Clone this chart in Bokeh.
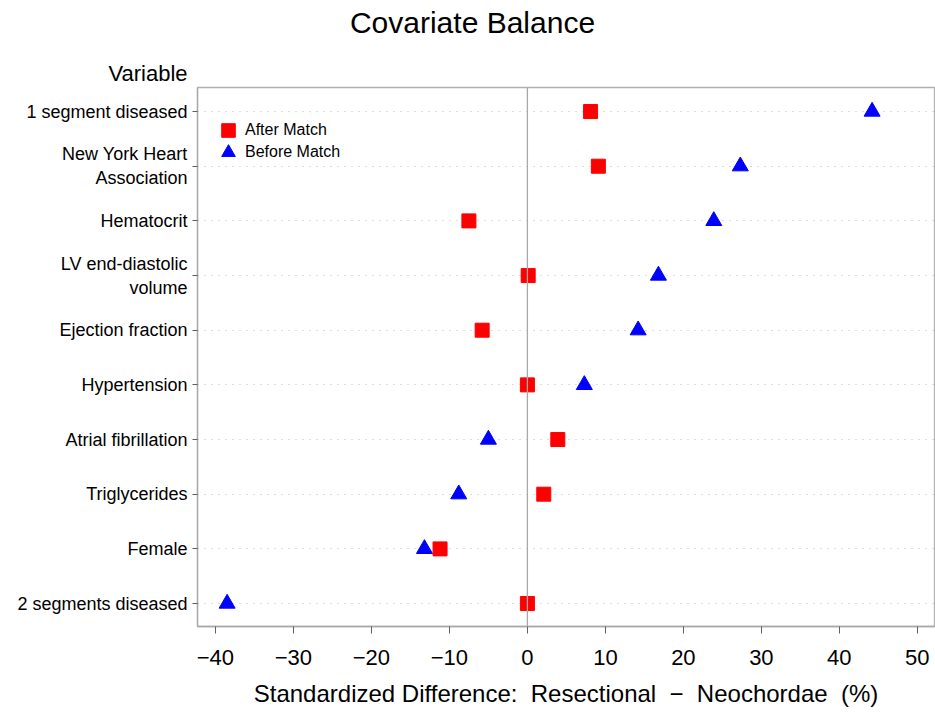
from bokeh.plotting import figure
from bokeh.layouts import column
from bokeh.models import (Range1d, FixedTicker, Span, Label, Legend, LegendItem, ColumnDataSource)
from bokeh.embed import file_html
from bokeh.resources import INLINE

# ---- data ----
variables = ["1 segment diseased", "New York Heart\nAssociation", "Hematocrit",
             "LV end-diastolic\nvolume", "Ejection fraction", "Hypertension",
             "Atrial fibrillation", "Triglycerides", "Female", "2 segments diseased"]
after_match = [8.1, 9.1, -7.5, 0.1, -5.8, 0.0, 3.9, 2.1, -11.2, 0.0]
before_match = [44.2, 27.3, 23.9, 16.8, 14.2, 7.3, -5.0, -8.8, -13.2, -38.5]
x_ticks = [-40, -30, -20, -10, 0, 10, 20, 30, 40, 50]

n = len(variables)
ypos = [n - i for i in range(n)]

FONT = "Liberation Sans"
W = 935
TOP_H = 86

# ---- header strip holding the title and the "Variable" heading ----
head = figure(width=W, height=TOP_H, output_backend="svg", toolbar_location=None,
              x_range=Range1d(0, W), y_range=Range1d(0, TOP_H),
              x_axis_type=None, y_axis_type=None, min_border=0)
head.title = None
head.frame_align = False
head.outline_line_color = None
head.xgrid.visible = False
head.ygrid.visible = False
head.add_layout(Label(x=472, y=TOP_H - 22, text="Covariate Balance", text_font=FONT,
                      text_font_size="30px", text_align="center", text_baseline="middle",
                      text_color="black"))
head.add_layout(Label(x=187, y=TOP_H - 73, text="Variable", text_font=FONT,
                      text_font_size="22px", text_align="right", text_baseline="middle",
                      text_color="black"))

# ---- main plot ----
p = figure(width=W, height=715 - TOP_H, output_backend="svg", toolbar_location=None,
           x_range=Range1d(-42.3, 52.2), y_range=Range1d(0.58, 10.44),
           min_border_left=197, min_border_right=1, min_border_top=1, min_border_bottom=89)
p.title = None
p.frame_align = False
p.outline_line_color = "#b0b0b0"
p.outline_line_width = 1.3

# grid
p.xgrid.visible = False
p.ygrid.ticker = FixedTicker(ticks=ypos)
p.ygrid.grid_line_color = "#b8b8b8"
p.ygrid.grid_line_dash = "1 6"
p.ygrid.grid_line_width = 1

# axes
p.xaxis.ticker = FixedTicker(ticks=x_ticks)
p.xaxis.major_label_overrides = {t: (str(t).replace("-", "\u2212")) for t in x_ticks}
p.yaxis.ticker = FixedTicker(ticks=ypos)
p.yaxis.major_label_overrides = {y: lab for y, lab in zip(ypos, variables)}
for ax in (p.xaxis[0], p.yaxis[0]):
    ax.axis_line_color = "#a8a8a8"
    ax.axis_line_width = 1.3
    ax.major_tick_line_color = "#606060"
    ax.minor_tick_line_color = None
    ax.major_tick_in = 0
    ax.major_label_text_font = FONT
    ax.major_label_text_color = "black"
p.xaxis.major_tick_out = 7
p.yaxis.major_tick_out = 5
p.xaxis.major_label_text_font_size = "22px"
p.yaxis.major_label_text_font_size = "18px"
p.xaxis.major_label_standoff = 16
p.yaxis.major_label_standoff = 5
p.xaxis.axis_label = "Standardized Difference: \u00a0Resectional \u00a0\u2212 \u00a0Neochordae \u00a0(%)"
p.xaxis.axis_label_text_font = FONT
p.xaxis.axis_label_text_font_size = "24px"
p.xaxis.axis_label_text_font_style = "normal"
p.xaxis.axis_label_text_color = "black"
p.xaxis.axis_label_standoff = 12

# zero reference line
p.add_layout(Span(location=0, dimension="height", line_color="#a8a8a8", line_width=1.3))

src = ColumnDataSource(dict(y=ypos, after=after_match, before=before_match))
r_after = p.scatter("after", "y", source=src, marker="square", size=14,
                    fill_color="#ff0000", line_color="#ff0000")
r_before = p.scatter("before", "y", source=src, marker="triangle", size=16,
                     fill_color="#0000ff", line_color="#0000ff")

common = dict(glyph_width=34, glyph_height=36, label_standoff=0, padding=0, margin=0,
              border_line_color=None, background_fill_alpha=0,
              label_text_font=FONT, label_text_font_size="16px",
              label_text_color="black", label_height=20)
p.add_layout(Legend(items=[LegendItem(label="After Match", renderers=[r_after])],
                    location=(14, 478), **common))
p.add_layout(Legend(items=[LegendItem(label="Before Match", renderers=[r_before])],
                    location=(14, 456), **common))

layout = column(head, p, spacing=0)
open("out.html", "w").write(file_html(layout, INLINE))
